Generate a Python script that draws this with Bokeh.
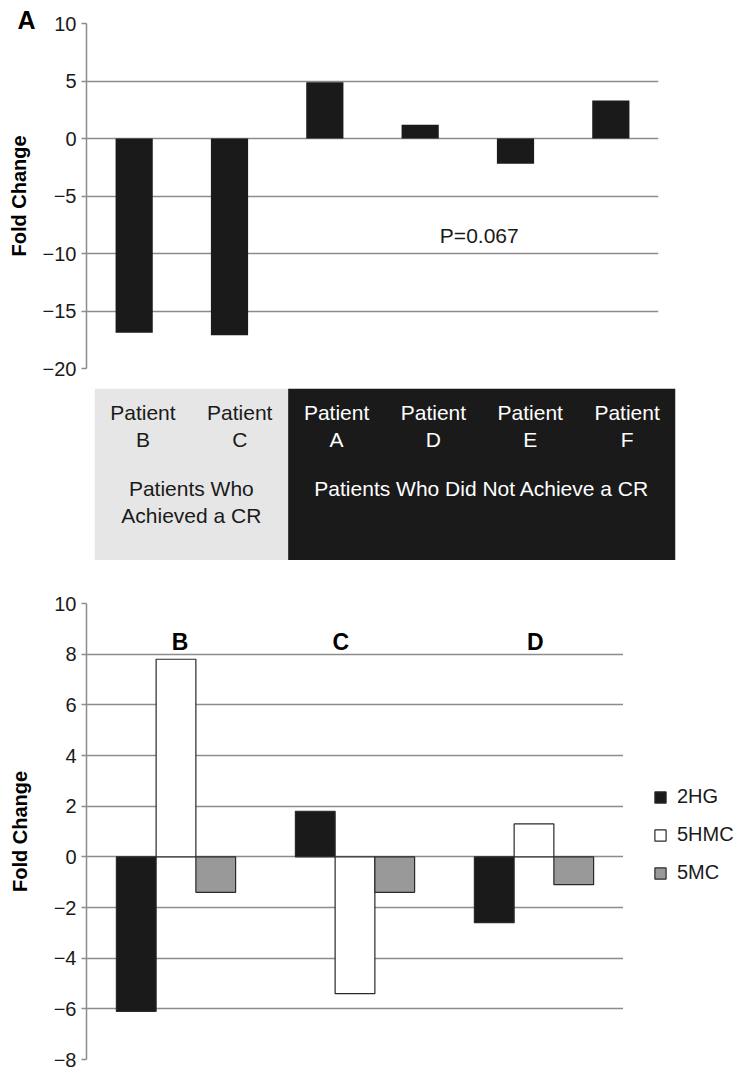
from bokeh.plotting import figure
from bokeh.layouts import column, row
from bokeh.models import (Range1d, FactorRange, FixedTicker, Label, Legend,
                          LegendItem, ColumnDataSource, Title)
from bokeh.transform import dodge
from bokeh.core.properties import value
from bokeh.embed import file_html
from bokeh.resources import INLINE

# ---------------- data ----------------
# Panel A
patients_a = ["B", "C", "A", "D", "E", "F"]
fold_change_a = [-16.9, -17.1, 4.9, 1.2, -2.2, 3.3]
group_names = ["Patients Who\nAchieved a CR", "Patients Who Did Not Achieve a CR"]
group_sizes = [2, 4]
p_value_text = "P=0.067"
yticks_a = [-20, -15, -10, -5, 0, 5, 10]

# Panel B
patients_b = ["B", "C", "D"]
series_names = ["2HG", "5HMC", "5MC"]
vals_2hg = [-6.1, 1.8, -2.6]
vals_5hmc = [7.8, -5.4, 1.3]
vals_5mc = [-1.4, -1.4, -1.1]
yticks_b = [-8, -6, -4, -2, 0, 2, 4, 6, 8, 10]

# ---------------- style ----------------
FONT = "Liberation Sans"
GRID = "#8c8c8c"
BLACK = "#1a1a1a"
TEXT = "#1a1a1a"


def mkfig(**kw):
    base = dict(output_backend="svg", toolbar_location=None)
    base.update(kw)
    try:
        return figure(frame_align=False, **base)
    except Exception:
        return figure(**base)


def minus_labels(ticks):
    return {t: ("\u2212" + str(abs(t))) if t < 0 else str(t) for t in ticks}


def style_yaxis(p, ticks, label_standoff):
    ax = p.yaxis[0]
    ax.ticker = FixedTicker(ticks=ticks)
    ax.major_label_overrides = minus_labels(ticks)
    ax.axis_line_color = GRID
    ax.axis_line_width = 1.5
    ax.major_tick_line_color = GRID
    ax.major_tick_line_width = 1.5
    ax.major_tick_out = 5
    ax.major_tick_in = 0
    ax.minor_tick_line_color = None
    ax.major_label_standoff = 5
    ax.major_label_text_font = FONT
    ax.major_label_text_font_size = "20px"
    ax.major_label_text_color = TEXT
    ax.axis_label = "Fold Change"
    ax.axis_label_text_font = FONT
    ax.axis_label_text_font_style = "bold"
    ax.axis_label_text_font_size = "20px"
    ax.axis_label_text_color = "#000000"
    ax.axis_label_standoff = label_standoff
    p.xgrid.visible = False
    p.ygrid.grid_line_color = GRID
    p.ygrid.grid_line_width = 1.5
    p.outline_line_color = None


# ---------------- Panel A chart ----------------
p1 = mkfig(width=741, height=388, x_range=FactorRange(*patients_a),
           y_range=Range1d(-20, 10), x_axis_location=None,
           min_border_left=86, min_border_right=83,
           min_border_top=23, min_border_bottom=20)
style_yaxis(p1, yticks_a, 10)
p1.vbar(x=patients_a, top=fold_change_a, bottom=0, width=0.39,
        fill_color=BLACK, line_color=None)
title = Title(text="A", align="left", offset=-69, text_font=FONT,
              text_font_style="bold", text_font_size="25px",
              text_color="#000000")
try:
    title.standoff = -20
except Exception:
    title.standoff = 0
p1.title = title
p1.add_layout(Label(x=4.12, y=-8.4, text=p_value_text, text_font=FONT,
                    text_font_size="21px", text_color=TEXT,
                    text_align="center", text_baseline="middle"))

# ---------------- category band ----------------
BAND_H = 172
n_pat = len(patients_a)
p2 = mkfig(width=741, height=BAND_H, x_range=Range1d(0, n_pat),
           y_range=Range1d(0, BAND_H), x_axis_location=None,
           y_axis_location=None, min_border_left=94, min_border_right=66,
           min_border_top=0, min_border_bottom=0)
p2.grid.visible = False
p2.outline_line_color = None
edges = [0]
for s in group_sizes:
    edges.append(edges[-1] + s)
group_fill = ["#e6e6e6", BLACK]
group_text = [TEXT, "#ffffff"]
p2.quad(left=edges[:-1], right=edges[1:], bottom=0, top=BAND_H,
        fill_color=group_fill, line_color=None)
pat_colors = []
for g, s in enumerate(group_sizes):
    pat_colors += [group_text[g]] * s
p2.text(x=[i + 0.5 for i in range(n_pat)], y=[BAND_H - 12] * n_pat,
        text=["Patient\n" + pid for pid in patients_a], text_color=pat_colors,
        text_font=value(FONT), text_font_size="21px", text_align="center",
        text_baseline="top", text_line_height=1.18)
p2.text(x=[(edges[i] + edges[i + 1]) / 2 for i in range(len(group_sizes))],
        y=[BAND_H - 88] * len(group_sizes), text=group_names,
        text_color=group_text, text_font=value(FONT), text_font_size="21px",
        text_align="center", text_baseline="top", text_line_height=1.21)

# ---------------- Panel B chart ----------------
H3 = 512
p3 = mkfig(width=623, height=H3, x_range=FactorRange(*patients_b),
           y_range=Range1d(-8, 10), x_axis_location=None,
           min_border_left=86, min_border_right=0,
           min_border_top=43, min_border_bottom=13)
style_yaxis(p3, yticks_b, 20)
src = ColumnDataSource(dict(patient=patients_b, s2hg=vals_2hg,
                            s5hmc=vals_5hmc, s5mc=vals_5mc))
bar_w = 0.222
fills = [BLACK, "#ffffff", "#999999"]
outline = "#2a2a2a"
cols = ["s2hg", "s5hmc", "s5mc"]
for i, (c, f) in enumerate(zip(cols, fills)):
    p3.vbar(x=dodge("patient", (i - 1) * bar_w, range=p3.x_range), top=c,
            bottom=0, width=bar_w, source=src, fill_color=f,
            line_color=outline, line_width=1.2)
label_dx = [0.022, -0.079, 0.007]
p3.text(x=[i + 0.5 + d for i, d in enumerate(label_dx)], y=[8.5] * 3,
        text=patients_b, text_font=value(FONT), text_font_style="bold",
        text_font_size="23px", text_color="#000000", text_align="center",
        text_baseline="alphabetic")

# legend strip to the right of panel B (proxy glyphs lie outside its range)
pl = mkfig(width=118, height=H3, x_range=Range1d(0, 1), y_range=Range1d(1, 2),
           x_axis_location=None, y_axis_location=None,
           min_border_left=0, min_border_right=0,
           min_border_top=0, min_border_bottom=0)
pl.grid.visible = False
pl.outline_line_color = None
items = []
for name, f in zip(series_names, fills):
    r = pl.vbar(x=[0.5], top=[0], bottom=[0], width=0.1, fill_color=f,
                line_color=outline, line_width=1.2)
    items.append(LegendItem(label=name, renderers=[r]))
legend = Legend(items=items, location=(30, 188), padding=0, margin=0,
                spacing=15, glyph_width=14, glyph_height=14, label_height=21,
                label_standoff=10, border_line_color=None,
                background_fill_alpha=0, label_text_font=FONT,
                label_text_font_size="20px", label_text_color=TEXT)
pl.add_layout(legend)

layout = column(p1, p2, row(p3, pl))
open("out.html", "w").write(file_html(layout, INLINE))
